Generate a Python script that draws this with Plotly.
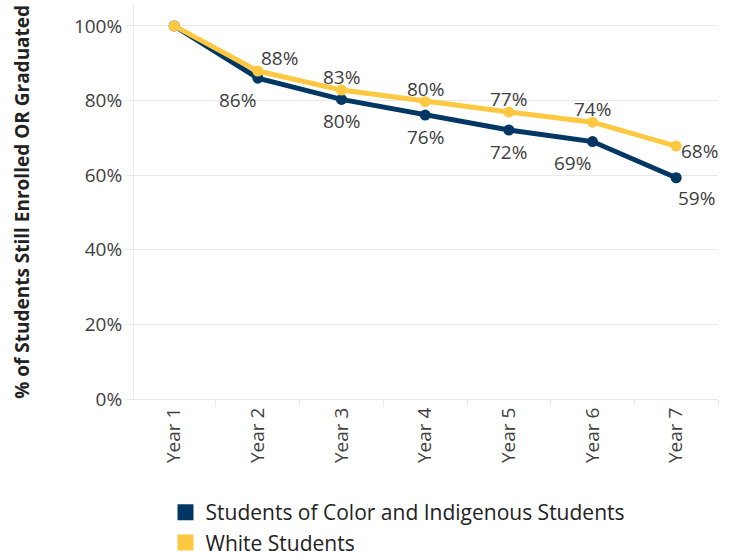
import plotly.graph_objects as go

years = ['Year 1', 'Year 2', 'Year 3', 'Year 4', 'Year 5', 'Year 6', 'Year 7']
poc_students = [100, 86.0, 80.3, 76.1, 72.1, 69.0, 59.3]
white_students = [100, 87.9, 82.8, 79.7, 76.9, 74.2, 67.8]
poc_labels = ['', '86%', '80%', '76%', '72%', '69%', '59%']
white_labels = ['', '88%', '83%', '80%', '77%', '74%', '68%']
y_ticks = [0, 20, 40, 60, 80, 100]
y_tick_labels = ['0%', '20%', '40%', '60%', '80%', '100%']

NAVY = '#023764'
GOLD = '#fec841'
GRID = '#e9e9e9'
TEXT = '#404040'
FONT = 'Open Sans'

# where each value label sits next to its point: (xanchor, xshift, yshift)
poc_label_pos = [('center', 0, 0), ('right', 0, -22), ('center', 0, -22), ('center', 0, -22),
                 ('center', 0, -22), ('right', 0, -21), ('left', 0, -20)]
white_label_pos = [('center', 0, 0), ('left', 1, 13), ('center', 0, 13), ('center', 0, 13),
                   ('center', 0, 13), ('center', 0, 13), ('left', 3, -5)]

fig = go.Figure()

fig.add_trace(go.Scatter(x=years, y=poc_students, mode='lines+markers',
                         line=dict(color=NAVY, width=5), marker=dict(color=NAVY, size=11),
                         showlegend=False, hoverinfo='skip'))
fig.add_trace(go.Scatter(x=years, y=white_students, mode='lines+markers',
                         line=dict(color=GOLD, width=5), marker=dict(color=GOLD, size=11),
                         showlegend=False, hoverinfo='skip'))

for values, labels, placement in [(poc_students, poc_labels, poc_label_pos),
                                  (white_students, white_labels, white_label_pos)]:
    for x, y, label, (xa, dx, dy) in zip(years, values, labels, placement):
        if not label:
            continue
        fig.add_annotation(x=x, y=y, text=label, showarrow=False, xanchor=xa, yanchor='middle',
                           xshift=dx, yshift=dy, font=dict(family=FONT, size=19, color=TEXT))

# legend entries drawn as squares like the original
fig.add_trace(go.Scatter(x=[None], y=[None], mode='markers', name='Students of Color and Indigenous Students',
                         marker=dict(color=NAVY, symbol='square', size=19)))
fig.add_trace(go.Scatter(x=[None], y=[None], mode='markers', name='White Students',
                         marker=dict(color=GOLD, symbol='square', size=19)))

# y axis title as a rotated annotation (axis title misplaces with fixed margins)
fig.add_annotation(xref='paper', yref='paper', x=-0.192, y=0.5, xanchor='center', yanchor='middle',
                   textangle=-90, showarrow=False,
                   text='<b>% of Students Still Enrolled OR Graduated</b>',
                   font=dict(family=FONT, size=19, color='#222222'))

fig.update_layout(
    width=729, height=556,
    margin=dict(l=134, r=11, t=5, b=157, autoexpand=False),
    paper_bgcolor='white', plot_bgcolor='white',
    font=dict(family=FONT, size=19, color=TEXT),
    legend=dict(xref='container', yref='container', x=165.5 / 729, y=1 - 492 / 556,
                xanchor='left', yanchor='top', itemsizing='trace',
                font=dict(family=FONT, size=21, color='#222222'), bgcolor='rgba(0,0,0,0)'),
)

fig.update_xaxes(type='category', range=[-0.48, 6.5], showgrid=False,
                 showline=True, linecolor=GRID, linewidth=1,
                 ticks='outside', tickson='boundaries', ticklen=6, tickcolor=GRID,
                 tickangle=-90, tickfont=dict(family=FONT, size=19, color=TEXT))
fig.update_yaxes(range=[0, 105.6], tickvals=y_ticks, ticktext=y_tick_labels,
                 showgrid=True, gridcolor=GRID, gridwidth=1, zeroline=False,
                 showline=True, linecolor=GRID, linewidth=1,
                 ticks='outside', ticklen=7, tickcolor=GRID,
                 tickfont=dict(family=FONT, size=19, color=TEXT))

fig.write_html('out.html', config={'displayModeBar': False},
               post_script="document.body.style.margin = '0';")
